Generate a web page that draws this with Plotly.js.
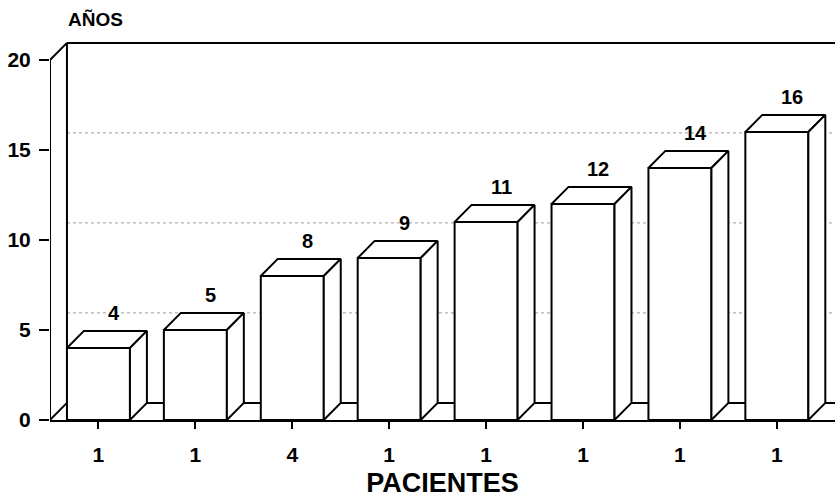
<!DOCTYPE html>
<html>
<head>
<meta charset="utf-8">
<script src="https://cdn.plot.ly/plotly-3.0.1.min.js"></script>
<style>html,body{margin:0;padding:0;background:#fff;}#chart{width:835px;height:499px;}</style>
</head>
<body>
<div id="chart"></div>
<script>
// Data
const tickLabels = ["1", "1", "4", "1", "1", "1", "1", "1"];
const years = [4, 5, 8, 9, 11, 12, 14, 16];
const yTicks = [0, 5, 10, 15, 20];

// 3D styling parameters (depth offsets in axis units)
const barW = 0.65, dx = 0.175, dy = 0.95;
const xs = years.map((_, i) => i);
const FONT = "Liberation Sans, Arial, Helvetica, sans-serif";

const traces = [];
// front faces
traces.push({
  type: "bar", x: xs, y: years, width: barW,
  marker: {color: "#fff", line: {color: "#000", width: 2}},
  hoverinfo: "skip"
});
// top and side faces
xs.forEach((c, i) => {
  const v = years[i], l = c - barW / 2, r = c + barW / 2;
  traces.push({
    type: "scatter", mode: "lines", fill: "toself", fillcolor: "#fff",
    x: [l, r, r + dx, l + dx, l], y: [v, v, v + dy, v + dy, v],
    line: {color: "#000", width: 2}, hoverinfo: "skip", showlegend: false
  });
  traces.push({
    type: "scatter", mode: "lines", fill: "toself", fillcolor: "#fff",
    x: [r, r + dx, r + dx, r, r], y: [0, dy, v + dy, v, 0],
    line: {color: "#000", width: 2}, hoverinfo: "skip", showlegend: false
  });
});

const x0 = -0.5, xEnd = 7.6, yTop = 20;
const shapes = [];
const ln = (xa, ya, xb, yb, extra) => Object.assign({type: "line", xref: "x", yref: "y", x0: xa, y0: ya, x1: xb, y1: yb, layer: "below", line: {color: "#000", width: 2}}, extra || {});
// back wall grid (dotted)
yTicks.filter(t => t > 0 && t < yTop).forEach(t => shapes.push(ln(x0 + dx, t + dy, xEnd, t + dy, {line: {color: "#999", width: 1, dash: "dot"}})));
// back wall top, left edge, floor
shapes.push(ln(x0 + dx, yTop + dy, xEnd, yTop + dy));
shapes.push(ln(x0 + dx, dy, x0 + dx, yTop + dy));
shapes.push(ln(x0 + dx, dy, xEnd, dy));
// front axis and corner diagonals
shapes.push(ln(x0, 0, x0, yTop));
shapes.push(ln(x0, yTop, x0 + dx, yTop + dy));
shapes.push(ln(x0, 0, x0 + dx, dy));

const annotations = xs.map((c, i) => ({
  x: c + dx * 0.9, y: years[i] + dy, xref: "x", yref: "y",
  text: String(years[i]), showarrow: false, yanchor: "bottom", yshift: 5,
  font: {family: FONT, size: 20, color: "#000", weight: "bold"}
}));
annotations.push({
  xref: "paper", yref: "paper", x: 0.02, y: 1.0, xanchor: "left", yanchor: "bottom", yshift: 10,
  text: "AÑOS", showarrow: false, font: {family: FONT, size: 19, color: "#000", weight: "bold"}
});

const layout = {
  width: 835, height: 499,
  margin: {l: 50, r: 0, t: 42, b: 79},
  paper_bgcolor: "#fff", plot_bgcolor: "#fff",
  showlegend: false, hovermode: false,
  xaxis: {
    range: [x0, xEnd], tickvals: xs, ticktext: tickLabels,
    showgrid: false, zeroline: false, showline: true, linecolor: "#000", linewidth: 2,
    ticks: "outside", ticklen: 7, tickwidth: 2, tickcolor: "#000", ticklabelstandoff: 8,
    tickfont: {family: FONT, size: 21, color: "#000", weight: "bold"},
    title: {text: "PACIENTES", standoff: 8, font: {family: FONT, size: 27, color: "#000", weight: "bold"}},
    fixedrange: true
  },
  yaxis: {
    range: [0, yTop + 1], tickvals: yTicks,
    showgrid: false, zeroline: false, showline: false,
    ticks: "outside", ticklen: 10, tickwidth: 2, tickcolor: "#000", ticklabelstandoff: 4,
    tickfont: {family: FONT, size: 21, color: "#000", weight: "bold"},
    fixedrange: true
  },
  shapes: shapes,
  annotations: annotations
};

Plotly.newPlot("chart", traces, layout, {displayModeBar: false, staticPlot: true});
</script>
</body>
</html>
